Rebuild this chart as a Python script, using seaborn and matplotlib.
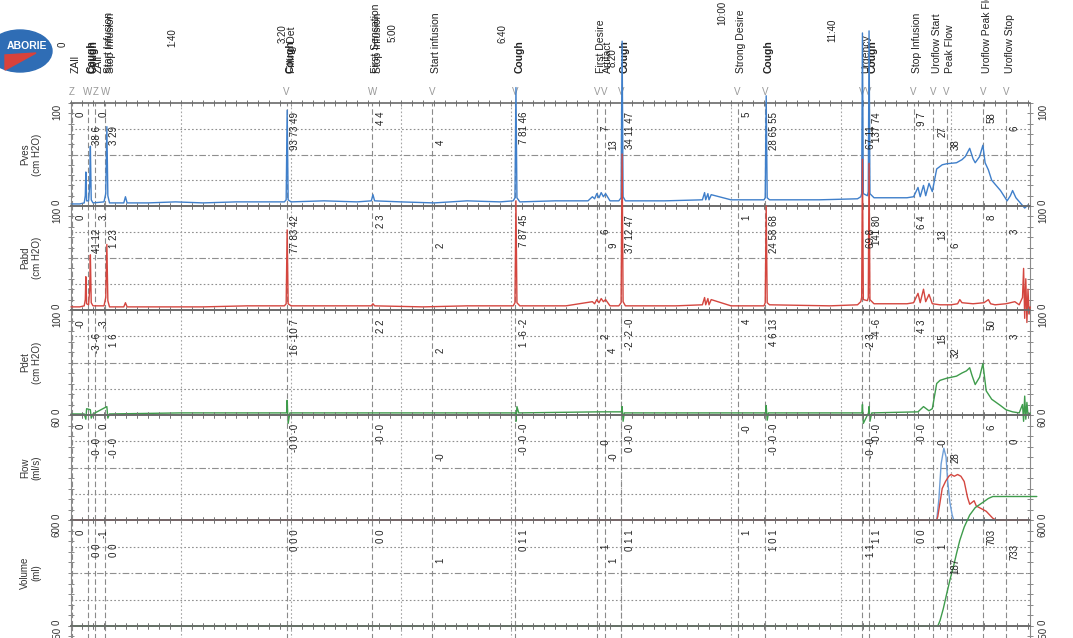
import matplotlib
matplotlib.use("Agg")
import matplotlib.pyplot as plt
import matplotlib.transforms as mtransforms
from matplotlib.patches import Ellipse, Polygon
from matplotlib.ticker import MultipleLocator
import seaborn as sns

sns.set_style("white")
plt.rcParams['font.family'] = ['Liberation Sans', 'DejaVu Sans']

# channels (top to bottom)
channels = ["Pves", "Pabd", "Pdet", "Flow", "Volume"]
units = ["(cm H2O)", "(cm H2O)", "(cm H2O)", "(ml/s)", "(ml)"]
y_top = [100, 100, 100, 60, 600, 150]

# time axis, seconds
time_ticks = [0, 100, 200, 300, 400, 500, 600, 700]
time_labels = ["0", "1:40", "3:20", "5:00", "6:40", "8:20", "10:00", "11:40"]

# event markers
event_t = [1, 15.5, 22, 31, 196, 274, 328, 404, 478, 485, 500, 606, 631,
           719, 725, 766, 784, 796, 829, 850]
event_mark = ["Z", "W", "Z", "W", "V", "W", "V", "V", "V", "V", "V", "V", "V",
              "V", "V", "V", "V", "V", "V", "V"]
event_name = ["ZAll", "Cough", "ZAll", "Start Infusion", "Cough", "First Sensation",
              "Start infusion", "Cough", "First Desire", "Artifact", "Cough",
              "Strong Desire", "Cough", "Urgency", "Cough", "Stop Infusion",
              "Uroflow Start", "Peak Flow", "Uroflow Peak Flow", "Uroflow Stop"]
overlay_t = [17.5, 33, 197, 276]
overlay_name = ["Cough", "Stop Infusion", "Filling Det", "Stop Infusion"]

# values printed at each event
pves_vals = ["0", "38 6", "0", "3 29", "93 73 49", "4 4", "4", "7 81 46", "7", "13",
             "34 11 47", "5", "28 65 55", "67 11", "137 74", "9 7", "27", "38", "58", "6"]
pabd_vals = ["0", "41 12", "3", "1 23", "77 83 42", "2 3", "2", "7 87 45", "6", "9",
             "37 12 47", "1", "24 58 68", "69 8", "141 80", "6 4", "13", "6", "8", "3"]
pdet_vals = ["-0", "-3 -6", "-3", "1 6", "16 -10 7", "2 2", "2", "1 -6 -2", "2", "4",
             "-2 -2 -0", "4", "4 6 13", "-2 3", "-4 -6", "4 3", "15", "32", "50", "3"]
flow_vals = ["0", "-0 -0", "0", "-0 -0", "-0 0 -0", "-0 -0", "-0", "-0 -0 -0", "-0", "-0",
             "0 -0 -0", "-0", "-0 -0 -0", "-0 -0", "-0 -0", "-0 -0", "-0", "28", "6", "0"]
vol_vals = ["0", "0 0", "-1", "0 0", "0 0 0", "0 0", "1", "0 1 1", "1", "1",
            "0 1 1", "1", "1 0 1", "1 1", "1 1", "0 0", "1", "187", "703", "733"]

# traces
pves_t = [0, 8, 12, 13, 13.5, 14.2, 16, 17, 17.6, 18.4, 20, 30, 31.6, 32.6, 33.5, 35,
          48, 49.5, 51, 70, 95, 120, 150, 170, 194, 195.6, 196.5, 197.4, 200, 230, 260,
          273, 274.5, 276, 300, 330, 360, 390, 402, 403.6, 404.5, 405.4, 408, 440, 470,
          474, 476, 478, 480, 482, 484, 486, 490, 498, 500.1, 501, 501.9, 504, 540, 574,
          576, 577, 579, 580, 582, 600, 630, 631.1, 632, 632.9, 635, 680, 715, 718,
          718.8, 719.5, 720.3, 724, 724.8, 725.5, 726.3, 730, 760, 766, 770, 772, 775,
          777, 780, 783, 787, 792, 796, 805, 810, 813, 817, 820, 822, 826, 829, 831,
          834, 837, 841, 845, 848, 851, 854, 856, 859, 863, 867, 870, 872]
pves = [2, 2, 3, 10, 33, 5, 5, 20, 58, 6, 3, 4, 12, 77, 10, 3,
        3, 9, 3, 3, 4, 3, 4, 4, 4, 6, 93, 6, 4, 5, 4,
        5, 11, 5, 4, 3, 5, 4, 5, 8, 115, 8, 4, 5, 5,
        9, 7, 12, 8, 13, 9, 12, 5, 5, 8, 160, 9, 5, 5, 6,
        13, 6, 12, 6, 11, 6, 6, 8, 107, 8, 6, 6, 7, 9,
        12, 168, 12, 10, 14, 170, 12, 8, 8, 9, 18, 9, 20,
        10, 22, 14, 36, 40, 41, 42, 45, 48, 56, 46, 42, 48, 59, 42,
        35, 25, 20, 15, 10, 5, 10, 15, 8, 3, -2, 1, -1]

pabd_t = [0, 8, 12, 13, 13.5, 14.2, 16, 17, 17.6, 18.4, 20, 30, 31.6, 32.6, 33.5, 35,
          48, 49.5, 51, 80, 120, 160, 194, 195.6, 196.5, 197.4, 200, 240, 273, 274.5,
          276, 320, 360, 402, 403.6, 404.5, 405.4, 408, 450, 474, 476, 478, 480, 482,
          484, 486, 490, 498, 500.1, 501, 501.9, 504, 550, 574, 576, 577, 579, 580,
          582, 600, 630, 631.1, 632, 632.9, 635, 690, 715, 718, 718.8, 719.5, 720.3,
          724, 724.8, 725.5, 726.3, 730, 760, 766, 770, 772, 775, 777, 780, 783, 790,
          800, 806, 808, 810, 820, 830, 834, 836, 840, 850, 858, 862, 865, 866, 867,
          868, 869, 870, 871, 872]
pabd = [3, 3, 4, 10, 32, 6, 5, 20, 53, 7, 4, 4, 12, 63, 9, 3,
        3, 7, 3, 3, 3, 4, 4, 6, 77, 6, 4, 4, 4, 6,
        4, 3, 4, 4, 7, 105, 7, 4, 4, 8, 6, 10, 7, 11,
        8, 10, 4, 4, 7, 150, 8, 4, 4, 5, 12, 5, 11, 5,
        10, 4, 4, 7, 100, 7, 5, 4, 5, 8, 12, 145, 10,
        9, 12, 141, 10, 6, 6, 7, 16, 7, 20, 8, 15, 6, 5,
        5, 6, 10, 7, 6, 7, 10, 6, 5, 6, 8, 5, 12, 40, -8,
        30, -12, 20, -4, 3]

pdet_t = [0, 12, 13.5, 14.2, 17.6, 18.4, 20, 32.6, 33.5, 35, 100, 196, 196.5, 197.4,
          199, 300, 404, 404.5, 405.4, 407, 480, 500.4, 501, 501.9, 503, 600, 631.5,
          632, 632.9, 634, 719, 719.5, 720.3, 725, 725.5, 726.3, 728, 770, 775, 780,
          783, 787, 790, 796, 805, 810, 814, 817, 819, 822, 826, 829, 832, 837, 845,
          850, 856, 862, 865, 866, 867, 868, 869, 870, 872]
pdet = [1, 1, -4, 6, 5, -3, 1, 8, -3, 1, 2, 2, 14, -8,
        2, 2, 2, -6, 8, 2, 3, 3, 8, -6, 2, 2, 2,
        9, -5, 2, 2, 10, -8, 2, 8, -6, 2, 3, 8, 4,
        6, 30, 33, 35, 37, 40, 42, 45, 38, 29, 36, 49, 23, 15, 9,
        5, 3, 2, 10, -6, 18, -4, 12, 0, 2]

flow_t = [0, 787, 788, 790, 792, 795, 798, 800, 803, 806, 809, 812, 815, 817, 819,
          821, 823, 826, 829, 832, 835, 838, 841, 872]
flow = [0, 0, 2, 10, 18, 22, 25, 26, 25, 26, 25, 22, 13, 9, 10,
        11, 8, 7, 6, 5, 3, 1, 0, 0]
flow2_t = [0, 787, 789, 791, 793.5, 795.5, 797, 799, 801, 802.5, 872]
flow2 = [0, 0, 12, 32, 41, 36, 22, 10, 3, 0, 0]

vol_t = [0, 788, 790, 793, 796, 799, 802, 805, 808, 812, 817, 822, 829, 834, 838,
         845, 878]
vol = [0, 0, 30, 98, 180, 260, 330, 410, 485, 560, 628, 670, 700, 722, 733,
       733, 733]

# layout (pixels of the 1073x638 page)
W, H = 1073, 638
left_px, right_px = 71, 1030
panel_px = [(103, 206), (206, 310), (310, 415), (415, 520), (520, 626), (626, 730)]
val_level = [1, 2, 1, 2, 1, 1, 3, 1, 2, 3, 1, 1, 1, 2, 1, 1, 2, 3, 1, 2]
level_off = {1: 9, 2: 23, 3: 37}
time_lbl_y = [47, 47, 43, 42, 43, 67, 25, 42]
t_max = (right_px - left_px) / 1.1

blue, red, green = "#3f7fca", "#d4463f", "#3f9c4c"
grid_c = "#8f8f8f"

fig = plt.figure(figsize=(W / 100, H / 100), dpi=100)

axes = []
for i, (y0, y1) in enumerate(panel_px):
    ax = fig.add_axes([left_px / W, 1 - y1 / H, (right_px - left_px) / W, (y1 - y0) / H])
    ax.set_facecolor("none")
    axes.append(ax)

traces = [(0, pves_t, pves, blue), (1, pabd_t, pabd, red), (2, pdet_t, pdet, green),
          (3, flow2_t, flow2, "#6f9fd8"), (3, flow_t, flow, red), (4, vol_t, vol, green)]
for p, tt, vv, c in traces:
    sns.lineplot(x=tt, y=vv, ax=axes[p], color=c, linewidth=1.0, sort=False,
                 estimator=None, clip_on=False, zorder=5)

all_vals = [pves_vals, pabd_vals, pdet_vals, flow_vals, vol_vals]
left_lbl_x = (57 - left_px) / (right_px - left_px)
right_lbl_x = (1043 - left_px) / (right_px - left_px)
name_x = (31 - left_px) / (right_px - left_px)

for i, ax in enumerate(axes):
    top = y_top[i]
    ax.set_xlim(0, t_max)
    ax.set_ylim(0, top)
    ax.set_xlabel("")
    ax.set_ylabel("")
    # grid
    for frac, ls in [(0.25, (0, (1.5, 2))), (0.5, (0, (6, 2, 1.5, 2))), (0.75, (0, (1.5, 2)))]:
        ax.axhline(top * frac, color=grid_c, ls=ls, lw=0.8, zorder=1)
    for gx in range(100, 900, 100):
        ax.axvline(gx, color="#a5a5a5", ls=(0, (1.5, 2)), lw=0.8, zorder=1)
    for t in event_t:
        ax.axvline(t, color="#8a8a8a", ls=(0, (5, 2.5)), lw=0.8, zorder=2)
    # spines and ticks
    for s in ["top", "bottom"]:
        ax.spines[s].set_color("#6a6a6a")
        ax.spines[s].set_linewidth(1.2)
    for s in ["left", "right"]:
        ax.spines[s].set_color("#8a8a8a")
        ax.spines[s].set_linewidth(0.8)
    ax.xaxis.set_major_locator(MultipleLocator(100))
    ax.xaxis.set_minor_locator(MultipleLocator(10))
    ax.yaxis.set_major_locator(MultipleLocator(top / 2))
    ax.yaxis.set_minor_locator(MultipleLocator(top / 10))
    ax.tick_params(axis="x", which="both", direction="inout", length=5, width=0.7,
                   colors="#777777", top=True, bottom=True, labelbottom=False)
    ax.tick_params(axis="y", which="both", direction="inout", length=5, width=0.7,
                   colors="#888888", left=True, right=True, labelleft=False)
    # scale labels
    for xx in [left_lbl_x, right_lbl_x]:
        ax.text(xx, 0.99, str(top), transform=ax.transAxes, rotation=90,
                ha="center", va="top", fontsize=7, color="#333")
        if i < 5:
            ax.text(xx, 0.01, "0", transform=ax.transAxes, rotation=90,
                    ha="center", va="bottom", fontsize=7, color="#333")
    if i < 5:
        ax.text(name_x, 0.5, channels[i] + "\n" + units[i], transform=ax.transAxes,
                rotation=90, ha="center", va="center", multialignment="center",
                fontsize=7, color="#333", linespacing=1.15)
        vals = all_vals[i]
        for k, t in enumerate(event_t):
            if vals[k]:
                ax.text(t + 8, top * (1 - level_off[val_level[k]] / 104), vals[k],
                        rotation=90, ha="center", va="top", fontsize=7, color="#222",
                        zorder=6)

# header above the top panel
ax0 = axes[0]
hdr = mtransforms.blended_transform_factory(ax0.transData, ax0.transAxes)
ph = panel_px[0][1] - panel_px[0][0]


def yf(y):
    return 1 + (panel_px[0][0] - y) / ph


for t, lbl, yb in zip(time_ticks, time_labels, time_lbl_y):
    ax0.text(t - 8, yf(yb), lbl, transform=hdr, rotation=90, ha="center",
             va="bottom", fontsize=7, color="#222")
for t, m, nm in zip(event_t, event_mark, event_name):
    ax0.text(t, yf(92), m, transform=hdr, ha="center", va="center",
             fontsize=7, color="#999999")
    ax0.text(t + 3.5, yf(73), nm, transform=hdr, rotation=90, ha="center",
             va="bottom", fontsize=7.5, color="#222",
             fontweight="bold" if nm == "Cough" else "normal")
for t, nm in zip(overlay_t, overlay_name):
    ax0.text(t + 3.5, yf(73), nm, transform=hdr, rotation=90, ha="center",
             va="bottom", fontsize=7.5, color="#222",
             fontweight="bold" if nm == "Cough" else "normal")

# logo
logo = fig.add_axes([0, 0, 1, 1], zorder=-1)
logo.set_xlim(0, W)
logo.set_ylim(H, 0)
logo.axis("off")
logo.add_patch(Ellipse((20, 51), 64, 42, color="#2f6db5"))
logo.add_patch(Polygon([(5, 55), (36, 53), (5, 70)], color="#d8423b"))
logo.text(27, 46, "ABORIE", color="white", fontsize=7.5, fontweight="bold",
          ha="center", va="center")

fig.savefig("out.png", dpi=100)
